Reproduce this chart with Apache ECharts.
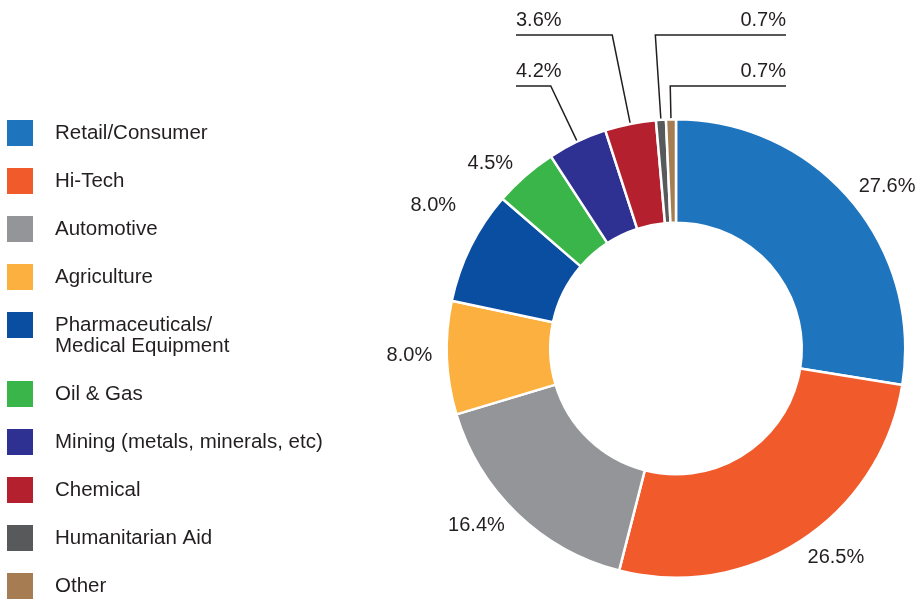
<!DOCTYPE html>
<html>
<head>
<meta charset="utf-8">
<script src="https://cdn.jsdelivr.net/npm/echarts@6/dist/echarts.min.js"></script>
<style>
html,body{margin:0;padding:0;background:#fff;}
#main{width:920px;height:601px;}
</style>
</head>
<body>
<div id="main"></div>
<script>
// ---- data ----
const categories = [
  'Retail/Consumer',
  'Hi-Tech',
  'Automotive',
  'Agriculture',
  'Pharmaceuticals/\nMedical Equipment',
  'Oil & Gas',
  'Mining (metals, minerals, etc)',
  'Chemical',
  'Humanitarian Aid',
  'Other'
];
const shares = [27.6, 26.5, 16.4, 8.0, 8.0, 4.5, 4.2, 3.6, 0.7, 0.7];
const colors = ['#1f75bd', '#f15a2b', '#939598', '#fbb040', '#0a4ea2',
                '#3ab54a', '#2e3192', '#b4202e', '#58595b', '#a67c52'];

// ---- layout constants ----
const FONT = '"Liberation Sans", Arial, Helvetica, sans-serif';
const TEXT_COLOR = '#231f20';
const CENTER = [676, 348.5];
const LABEL_GAP = 240;          // distance from centre to nearest label edge
const CALLOUT_START = 216;      // where callout lines start (inside ring)
const CALLOUTS = {
  6: { side: 'left',  lineY: 86, endX: 516 },
  7: { side: 'left',  lineY: 35, endX: 516 },
  8: { side: 'right', lineY: 35, endX: 786 },
  9: { side: 'right', lineY: 86, endX: 786 }
};
const LABEL_NUDGE = { 2: [-5, -3], 3: [-4, -3], 4: [-5, -32], 5: [-5, 3] };
const LEGEND_FONT = 20.5;

const chart = echarts.init(document.getElementById('main'), null, { renderer: 'canvas' });

function labelLayout(params) {
  const idx = params.dataIndex;
  const lay = chart.getModel().getSeriesByIndex(0).getData().getItemLayout(idx);
  const mid = (lay.startAngle + lay.endAngle) / 2;
  const dx = Math.cos(mid), dy = Math.sin(mid);
  const cx = lay.cx, cy = lay.cy;
  const c = CALLOUTS[idx];
  if (c) {
    const start = [cx + dx * CALLOUT_START, cy + dy * CALLOUT_START];
    const t = (c.lineY - cy) / dy;
    const elbow = [cx + dx * t, c.lineY];
    return {
      x: c.endX,
      y: c.lineY - 15,
      align: c.side,
      verticalAlign: 'middle',
      labelLinePoints: [start, elbow, [c.endX, c.lineY]]
    };
  }
  const nudge = LABEL_NUDGE[idx] || [0, 0];
  const px = cx + dx * LABEL_GAP + nudge[0];
  const py = cy + dy * LABEL_GAP + dy * 10 + nudge[1];
  return {
    x: px,
    y: py,
    align: dx >= 0 ? 'left' : 'right',
    verticalAlign: 'middle'
  };
}

const richLine = { fontFamily: FONT, fontSize: LEGEND_FONT, color: TEXT_COLOR, lineHeight: 21 };

const legendCommon = {
  orient: 'vertical',
  left: 7,
  padding: 0,
  itemWidth: 26,
  itemHeight: 26,
  itemGap: 22,
  icon: 'rect',
  selectedMode: false,
  itemStyle: { borderWidth: 0 },
  textStyle: {
    fontFamily: FONT,
    fontSize: LEGEND_FONT,
    color: TEXT_COLOR,
    lineHeight: 21,
    padding: [0, 0, 0, 17]
  }
};

const option = {
  animation: false,
  color: colors,
  textStyle: { fontFamily: FONT },
  legend: [
    Object.assign({}, legendCommon, { data: categories.slice(0, 4), top: 120 }),
    Object.assign({}, legendCommon, {
      data: categories.slice(4, 5),
      top: 293.5,
      formatter: function (name) {
        return name.split('\n').map(function (s) { return '{p|' + s + '}'; }).join('\n');
      },
      textStyle: Object.assign({}, legendCommon.textStyle, {
        padding: [21, 0, 0, 17],
        rich: { p: richLine }
      })
    }),
    Object.assign({}, legendCommon, { data: categories.slice(5), top: 381 })
  ],
  series: [{
    type: 'pie',
    center: CENTER,
    radius: [125.75, 229.25],
    startAngle: 90,
    clockwise: true,
    avoidLabelOverlap: false,
    emphasis: { disabled: true },
    itemStyle: { borderColor: '#ffffff', borderWidth: 2.5 },
    label: {
      show: true,
      position: 'outside',
      fontFamily: FONT,
      fontSize: 20,
      color: TEXT_COLOR,
      formatter: function (p) { return p.value.toFixed(1) + '%'; }
    },
    labelLine: {
      show: true,
      length: 10,
      length2: 10,
      smooth: false,
      lineStyle: { color: TEXT_COLOR, width: 1.5 }
    },
    labelLayout: labelLayout,
    data: categories.map(function (name, i) {
      return {
        name: name,
        value: shares[i],
        itemStyle: { color: colors[i] },
        labelLine: { show: !!CALLOUTS[i] }
      };
    })
  }]
};

chart.setOption(option);
</script>
</body>
</html>
